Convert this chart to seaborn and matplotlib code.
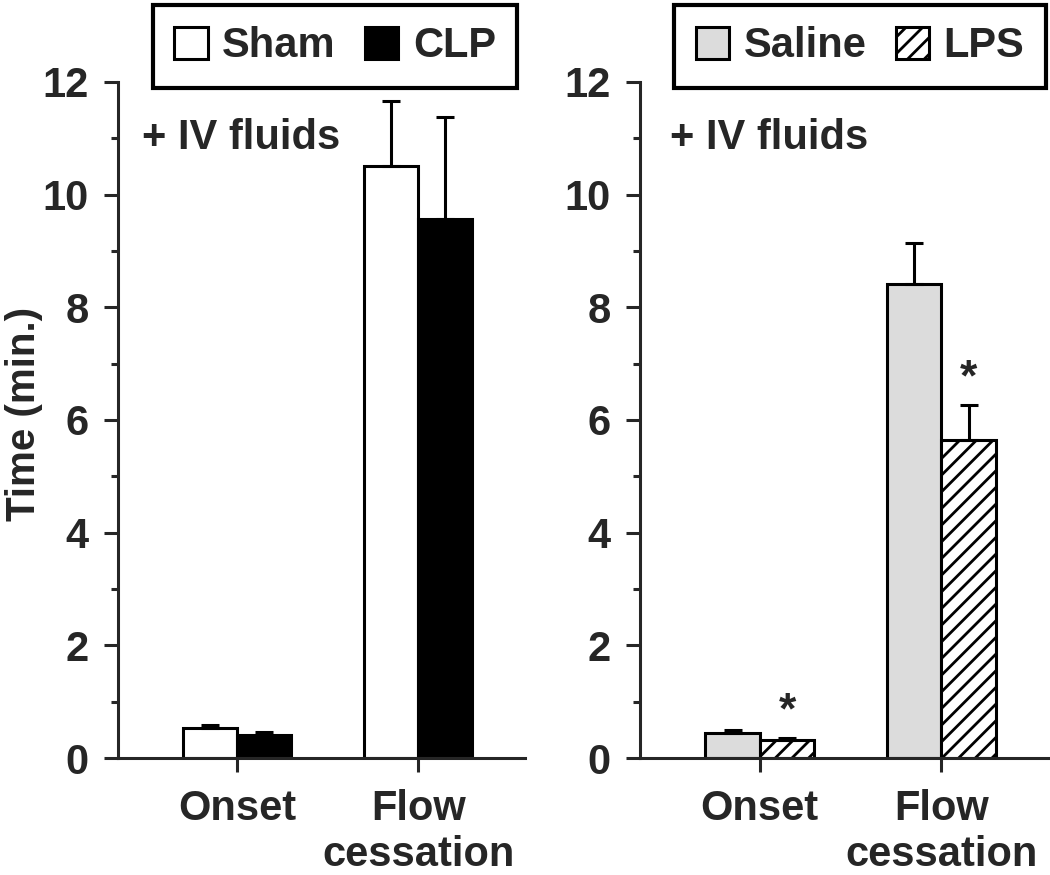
import matplotlib
matplotlib.use("Agg")

import matplotlib.pyplot as plt
import numpy as np
import pandas as pd
import seaborn as sns
from matplotlib.patches import Patch
from matplotlib.ticker import MultipleLocator

categories = ["Onset", "Flow\ncessation"]

# left panel: CLP model
sham_mean = [0.53, 10.50]
sham_sem = [0.06, 1.17]
clp_mean = [0.41, 9.57]
clp_sem = [0.05, 1.81]

# right panel: LPS model
saline_mean = [0.44, 8.42]
saline_sem = [0.06, 0.73]
lps_mean = [0.32, 5.65]
lps_sem = [0.04, 0.62]

# significance marks for the second group of the right panel
lps_star = [True, True]

LW = 2.2
FS = 30

sns.set_style("ticks")
plt.rcParams["font.family"] = ["Liberation Sans", "DejaVu Sans"]
plt.rcParams["font.weight"] = "bold"
plt.rcParams["hatch.linewidth"] = 2.0


def make_df(names, means, sems):
    rows = []
    for name, m, s in zip(names, means, sems):
        for c, v, e in zip(categories, m, s):
            rows.append({"cat": c, "group": name, "mean": v, "sem": e})
    return pd.DataFrame(rows)


def panel(ax, df, names, colors, hatches, stars=None, text_x=0.06):
    sns.barplot(
        data=df, x="cat", y="mean", hue="group", hue_order=names,
        order=categories, palette=dict(zip(names, colors)),
        width=0.6, errorbar=None, edgecolor="black", linewidth=LW,
        legend=False, ax=ax,
    )
    for cont, name, h in zip(ax.containers, names, hatches):
        sub = df[df["group"] == name].set_index("cat").loc[categories]
        xs = [b.get_x() + b.get_width() / 2 for b in cont]
        ys = [b.get_height() for b in cont]
        for b in cont:
            b.set_hatch(h)
            b.set_zorder(2)
        ax.errorbar(xs, ys, yerr=[np.zeros(len(xs)), sub["sem"].values],
                    fmt="none", ecolor="black", elinewidth=LW,
                    capsize=6.5, capthick=LW, zorder=3)
        if stars is not None and name == names[-1]:
            for x, y, e, s in zip(xs, ys, sub["sem"].values, stars):
                if s:
                    ax.annotate("*", xy=(x, y + e), xytext=(0, 4),
                                textcoords="offset points", ha="center",
                                va="bottom", fontsize=FS + 2, fontweight="bold")

    ax.set_ylim(0, 12)
    ax.set_xlim(-0.66, 1.59)
    ax.yaxis.set_major_locator(MultipleLocator(2))
    ax.yaxis.set_minor_locator(MultipleLocator(1))
    ax.tick_params(axis="y", which="major", length=10, width=LW,
                   labelsize=FS, pad=11)
    ax.tick_params(axis="y", which="minor", length=5, width=LW)
    ax.tick_params(axis="x", length=10, width=LW, labelsize=FS, pad=12)
    for lab in ax.get_xticklabels() + ax.get_yticklabels():
        lab.set_fontweight("bold")
    sns.despine(ax=ax)
    for sp in ["left", "bottom"]:
        ax.spines[sp].set_linewidth(LW)
    ax.set_xlabel("")
    ax.set_ylabel("")
    ax.text(text_x, 11.0, "+ IV fluids", transform=ax.get_yaxis_transform(),
            ha="left", va="center", fontsize=FS, fontweight="bold")

    handles = [Patch(facecolor=c, edgecolor="black", hatch=h, linewidth=LW)
               for c, h in zip(colors, hatches)]
    return handles


fig = plt.figure(figsize=(10.5, 8.75), dpi=100)
ax1 = fig.add_axes([0.112, 0.1337, 0.388, 0.7726])
ax2 = fig.add_axes([0.6095, 0.1337, 0.389, 0.7726])

left_names = ["Sham", "CLP"]
right_names = ["Saline", "LPS"]

h1 = panel(ax1, make_df(left_names, [sham_mean, clp_mean], [sham_sem, clp_sem]),
           left_names, ["white", "black"], ["", ""], text_x=0.059)
h2 = panel(ax2, make_df(right_names, [saline_mean, lps_mean], [saline_sem, lps_sem]),
           right_names, ["#dcdcdc", "white"], ["", "//"], stars=lps_star,
           text_x=0.074)

fig.text(24 / 1050, 0.527, "Time (min.)", rotation=90, ha="center",
         va="center", fontsize=FS - 1, fontweight="bold")

leg_kw = dict(ncol=2, loc="lower center", frameon=True, fancybox=False,
              edgecolor="black", fontsize=FS, handlelength=0.8,
              handleheight=0.8, handletextpad=0.35, columnspacing=0.7,
              borderpad=0.52, borderaxespad=0)
for h, names, cx in [(h1, left_names, 335), (h2, right_names, 860)]:
    leg = fig.legend(h, names, bbox_to_anchor=(cx / 1050, 1 - 88 / 875),
                     **leg_kw)
    leg.get_frame().set_linewidth(3)
    leg.get_frame().set_alpha(1)
    for t in leg.get_texts():
        t.set_fontweight("bold")

fig.savefig("out.png", dpi=100)
